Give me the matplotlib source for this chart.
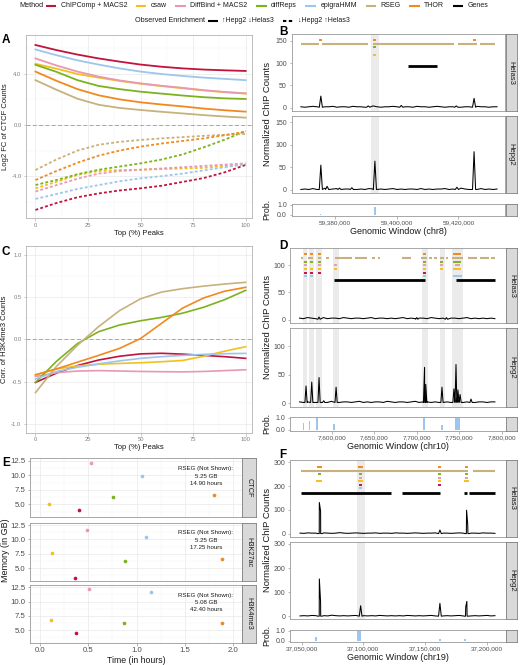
#!/usr/bin/env python3
"""Peak-caller comparison figure: CTCF/H3K4me3 enrichment curves, genomic tracks, runtime."""

import matplotlib

matplotlib.use("Agg")
import matplotlib.pyplot as plt
import matplotlib.ticker as ticker
import numpy as np
from matplotlib.lines import Line2D

plt.rcParams["font.family"] = ["Liberation Sans", "DejaVu Sans"]

W, H = 520, 665

COLORS = {
    "ChIPComp": "#C2123E",
    "csaw": "#F4C01E",
    "DiffBind": "#E899B1",
    "diffReps": "#7DB21F",
    "epigraHMM": "#9CC6EE",
    "RSEG": "#C7B27D",
    "THOR": "#F1891F",
    "Genes": "#000000",
}
LABELS = {
    "ChIPComp": "ChIPComp + MACS2",
    "csaw": "csaw",
    "DiffBind": "DiffBind + MACS2",
    "diffReps": "diffReps",
    "epigraHMM": "epigraHMM",
    "RSEG": "RSEG",
    "THOR": "THOR",
    "Genes": "Genes",
}
CURVE_METHODS = ["ChIPComp", "csaw", "DiffBind", "diffReps", "epigraHMM", "RSEG", "THOR"]
ROW_ORDER = ["THOR", "RSEG", "diffReps", "DiffBind", "csaw", "ChIPComp", "epigraHMM"]

# ---- panel A: log2 FC of CTCF counts vs top % peaks ----
TOP_PCT = [0, 10, 20, 30, 40, 50, 60, 70, 80, 90, 100]
ctcf_up_chipcomp = [6.25, 5.85, 5.5, 5.2, 4.95, 4.72, 4.55, 4.42, 4.33, 4.27, 4.22]
ctcf_up_csaw = [4.78, 4.4, 3.98, 3.7, 3.44, 3.22, 3.04, 2.87, 2.7, 2.56, 2.45]
ctcf_up_diffbind = [5.2, 4.65, 4.17, 3.78, 3.48, 3.25, 3.06, 2.9, 2.72, 2.58, 2.47]
ctcf_up_diffreps = [4.7, 4.15, 3.5, 3.05, 2.8, 2.6, 2.45, 2.3, 2.17, 2.08, 2.03]
ctcf_up_epigrahmm = [5.9, 5.45, 5.05, 4.72, 4.42, 4.17, 3.98, 3.83, 3.7, 3.6, 3.5]
ctcf_up_rseg = [3.5, 2.75, 2.05, 1.58, 1.33, 1.17, 1.03, 0.9, 0.77, 0.66, 0.57]
ctcf_up_thor = [4.17, 3.45, 2.8, 2.32, 2.0, 1.77, 1.6, 1.45, 1.28, 1.15, 1.04]

ctcf_dn_chipcomp = [-6.64, -6.1, -5.65, -5.35, -5.12, -4.95, -4.75, -4.45, -4.15, -3.7, -3.12]
ctcf_dn_csaw = [-4.95, -4.45, -3.9, -3.6, -3.52, -3.5, -3.45, -3.4, -3.35, -3.2, -3.07]
ctcf_dn_diffbind = [-5.2, -4.7, -4.2, -3.8, -3.6, -3.5, -3.4, -3.3, -3.2, -3.1, -3.0]
ctcf_dn_diffreps = [-4.69, -4.3, -3.85, -3.5, -3.25, -3.0, -2.7, -2.3, -1.75, -1.15, -0.47]
ctcf_dn_epigrahmm = [-5.78, -5.4, -5.0, -4.7, -4.4, -4.17, -4.0, -3.8, -3.55, -3.3, -3.07]
ctcf_dn_rseg = [-3.52, -2.7, -2.0, -1.55, -1.32, -1.17, -1.05, -0.95, -0.85, -0.77, -0.7]
ctcf_dn_thor = [-4.3, -3.6, -2.95, -2.4, -2.0, -1.69, -1.45, -1.25, -1.05, -0.8, -0.52]

# ---- panel C: correlation of H3K4me3 counts ----
k4_chipcomp = [-0.51, -0.4, -0.31, -0.245, -0.2, -0.172, -0.165, -0.175, -0.19, -0.205, -0.225]
k4_csaw = [-0.42, -0.35, -0.315, -0.295, -0.285, -0.277, -0.265, -0.25, -0.2, -0.14, -0.087]
k4_diffbind = [-0.44, -0.395, -0.375, -0.37, -0.375, -0.38, -0.383, -0.385, -0.38, -0.37, -0.36]
k4_diffreps = [-0.51, -0.26, -0.05, 0.09, 0.17, 0.22, 0.26, 0.31, 0.38, 0.47, 0.58]
k4_epigrahmm = [-0.47, -0.38, -0.33, -0.29, -0.255, -0.225, -0.205, -0.19, -0.178, -0.17, -0.166]
k4_rseg = [-0.63, -0.32, -0.07, 0.15, 0.34, 0.48, 0.56, 0.6, 0.63, 0.655, 0.675]
k4_thor = [-0.42, -0.35, -0.27, -0.19, -0.107, 0.01, 0.19, 0.37, 0.49, 0.57, 0.616]

# ---- panel E: time and memory ----
E_METHODS = ["ChIPComp", "csaw", "DiffBind", "diffReps", "epigraHMM", "THOR"]
ctcf_hours = [0.41, 0.093, 0.535, 0.76, 1.06, 1.8]
ctcf_gb = [3.98, 5.06, 12.16, 6.25, 9.92, 6.55]
k27_hours = [0.36, 0.13, 0.49, 0.88, 1.1, 1.88]
k27_gb = [3.3, 7.72, 11.64, 6.33, 10.36, 6.56]
k4_hours = [0.37, 0.12, 0.51, 0.87, 1.145, 1.88]
k4_gb = [4.46, 6.76, 12.22, 6.3, 11.76, 6.19]
E_MARKS = ["CTCF", "H3K27ac", "H3K4me3"]
rseg_note = [("5.25 GB", "14.90 hours"), ("5.25 GB", "17.25 hours"), ("5.08 GB", "42.40 hours")]

# ---- panel B: chr8 ----
b_range = (59369000, 59432500)
b_helas3_base = [2, 1, 2, 3, 2, 1, 2, 2, 3, 1, 2, 2, 1, 3, 2, 2, 1, 2, 4, 2, 1, 2, 2, 3, 2,
                 1, 2, 2, 1, 3, 2, 2, 1, 2, 3, 2, 1, 2, 2, 3, 1, 2, 2, 1, 3, 2, 2, 1, 2, 2]
b_hepg2_base = [1, 2, 1, 3, 1, 2, 4, 1, 2, 3, 1, 2, 2, 4, 1, 2, 1, 3, 2, 1, 2, 1, 2, 3, 1,
                2, 1, 2, 2, 1, 3, 1, 2, 1, 2, 2, 3, 1, 2, 1, 4, 2, 1, 2, 1, 3, 1, 2, 1, 2]
b_helas3_peaks = [(59375460, 26), (59390800, 4), (59401500, 5), (59419300, 4), (59425060, 21)]
b_hepg2_peaks = [(59375460, 55), (59377500, 8), (59381500, 4), (59385500, 5),
                 (59392960, 64), (59419500, 6), (59425060, 85)]
b_shade = [(59391670, 59394360)]
b_calls = [
    ("THOR", 59375300, 59375600), ("THOR", 59392800, 59393100), ("THOR", 59424900, 59425200),
    ("RSEG", 59368980, 59374910), ("RSEG", 59375790, 59390600), ("RSEG", 59392220, 59418670),
    ("RSEG", 59419770, 59425930), ("RSEG", 59427000, 59431860),
    ("diffReps", 59392750, 59393150), ("DiffBind", 59392900, 59393050),
    ("csaw", 59392750, 59393150), ("epigraHMM", 59392900, 59393000),
]
b_genes = [(59403570, 59412970)]
b_prob_pos = [59375400, 59392900]
b_prob_height = [0.08, 0.8]
b_prob_width = [500, 700]

# ---- panel D: chr10 ----
d_range = (7562000, 7792000)
d_helas3_base = [3, 2, 4, 3, 2, 3, 4, 2, 3, 3, 2, 4, 3, 2, 3, 3, 2, 3, 4, 2, 3, 3, 2, 3, 2,
                 3, 4, 2, 3, 2, 3, 3, 2, 4, 3, 2, 3, 2, 3, 3, 2, 3, 4, 2, 3, 2, 3, 2, 3, 2]
d_hepg2_base = [2, 1, 2, 3, 1, 2, 2, 1, 3, 2, 1, 2, 2, 1, 2, 3, 1, 2, 1, 2, 2, 1, 3, 2, 1,
                2, 2, 1, 2, 3, 1, 2, 2, 1, 2, 1, 3, 2, 1, 2, 2, 1, 2, 3, 1, 2, 2, 1, 2, 2]
d_helas3_peaks = [(7585000, 5), (7700000, 4), (7735000, 4)]
d_hepg2_peaks = [(7569700, 30), (7576420, 37), (7585020, 45), (7590500, 4), (7605070, 28),
                 (7709200, 63), (7710600, 33), (7729700, 28), (7743800, 25), (7746200, 68),
                 (7748500, 23), (7751000, 15), (7763900, 7)]
d_shade = [(7566510, 7571230), (7573585, 7579480), (7581490, 7588560), (7601890, 7608250),
           (7706130, 7713210), (7726890, 7732780), (7741500, 7754480)]
d_calls = [
    ("THOR", 7568300, 7569500), ("diffReps", 7568300, 7569500), ("DiffBind", 7568300, 7569500),
    ("csaw", 7568300, 7569500), ("ChIPComp", 7568300, 7569500), ("epigraHMM", 7568300, 7569500),
    ("THOR", 7575800, 7577000), ("diffReps", 7575800, 7577000), ("csaw", 7575800, 7577000),
    ("ChIPComp", 7575800, 7577000), ("epigraHMM", 7575800, 7577000),
    ("THOR", 7584400, 7585600), ("diffReps", 7584400, 7585600), ("DiffBind", 7584400, 7585600),
    ("csaw", 7584400, 7585600), ("ChIPComp", 7584400, 7585600),
    ("DiffBind", 7604100, 7605300), ("csaw", 7604100, 7605300),
    ("THOR", 7708600, 7709800), ("diffReps", 7708600, 7709800), ("DiffBind", 7708600, 7709800),
    ("csaw", 7708600, 7709800), ("ChIPComp", 7708600, 7709800), ("epigraHMM", 7708600, 7709800),
    ("diffReps", 7729100, 7730300), ("DiffBind", 7729100, 7730300), ("csaw", 7729100, 7730300),
    ("THOR", 7744170, 7750460), ("diffReps", 7744200, 7751000), ("DiffBind", 7745700, 7749600),
    ("csaw", 7743400, 7751000), ("epigraHMM", 7743400, 7751800),
    ("RSEG", 7563800, 7565760), ("RSEG", 7572450, 7577560), ("RSEG", 7583450, 7586990),
    ("RSEG", 7593280, 7596420), ("RSEG", 7603890, 7623540), ("RSEG", 7627480, 7642020),
    ("RSEG", 7647920, 7651060), ("RSEG", 7654200, 7656960), ("RSEG", 7682510, 7693120),
    ("RSEG", 7705310, 7711990), ("RSEG", 7714740, 7717880), ("RSEG", 7719850, 7723780),
    ("RSEG", 7727710, 7731640), ("RSEG", 7734390, 7736750), ("RSEG", 7741470, 7754440),
    ("RSEG", 7760340, 7770950), ("RSEG", 7774090, 7784700), ("RSEG", 7787850, 7792560),
]
d_genes = [(7602710, 7710020), (7746180, 7792560)]
d_prob_pos = [7566900, 7573900, 7582300, 7602700, 7708000, 7729700, 7747500]
d_prob_height = [0.6, 0.7, 1.0, 0.5, 1.0, 0.4, 1.0]
d_prob_width = [1800, 1800, 2400, 1800, 2400, 1800, 6000]

# ---- panel F: chr19 ----
f_range = (37048600, 37206700)
f_helas3_base = [3, 2, 4, 3, 3, 2, 4, 3, 2, 3, 5, 3, 2, 3, 4, 3, 2, 3, 3, 4, 2, 3, 3, 2, 4,
                 3, 3, 2, 3, 4, 3, 2, 3, 3, 4, 2, 3, 3, 2, 3, 4, 3, 2, 3, 3, 2, 4, 3, 3, 2]
f_hepg2_base = [2, 3, 2, 4, 3, 2, 3, 2, 5, 3, 2, 3, 2, 3, 4, 2, 3, 2, 3, 2, 4, 3, 2, 3, 2,
                3, 2, 4, 3, 2, 3, 2, 3, 4, 2, 3, 2, 3, 2, 3, 4, 2, 3, 2, 3, 2, 3, 4, 2, 3]
f_helas3_peaks = [(37064290, 131), (37065300, 95), (37162060, 16), (37183670, 99), (37184600, 40)]
f_hepg2_peaks = [(37064290, 155), (37065300, 60), (37097780, 44), (37162060, 54),
                 (37183000, 40), (37183900, 62)]
f_shade = [(37094540, 37101290)]
f_calls = [
    ("THOR", 37063200, 37065400), ("diffReps", 37063900, 37064700), ("csaw", 37062700, 37065900),
    ("THOR", 37096800, 37098800), ("diffReps", 37097400, 37098100), ("DiffBind", 37097400, 37098100),
    ("csaw", 37096500, 37099000), ("ChIPComp", 37097200, 37098400), ("epigraHMM", 37097200, 37098400),
    ("THOR", 37161700, 37162400), ("diffReps", 37161700, 37162400), ("DiffBind", 37161700, 37162400),
    ("csaw", 37161700, 37162400), ("ChIPComp", 37161700, 37162400),
    ("THOR", 37183000, 37184300), ("diffReps", 37183100, 37184200), ("DiffBind", 37183300, 37184000),
    ("csaw", 37182500, 37184800),
    ("RSEG", 37049430, 37185020), ("RSEG", 37188530, 37206630),
]
f_genes = [(37049430, 37122360), (37131540, 37162060), (37181520, 37183670), (37185830, 37206630)]
f_prob_pos = [37061600, 37096500, 37162100, 37182300]
f_prob_height = [0.4, 1.0, 0.2, 0.15]
f_prob_width = [1500, 3000, 1200, 1200]


fig = plt.figure(figsize=(W / 100, H / 100), dpi=100)
fig.patch.set_facecolor("white")


def ax_at(left, top, right, bottom):
    return fig.add_axes([left / W, 1 - bottom / H, (right - left) / W, (bottom - top) / H])


def style_frame(ax, color="#B3B3B3", labelsize=4.2, labelcolor="#808080"):
    for sp in ax.spines.values():
        sp.set_color(color)
        sp.set_linewidth(0.6)
    ax.tick_params(length=1.8, width=0.5, color=color, labelsize=labelsize,
                   labelcolor=labelcolor, pad=1.5)


def add_grid(ax):
    ax.set_axisbelow(True)
    ax.grid(which="major", color="#EBEBEB", linewidth=0.55)
    ax.grid(which="minor", color="#F4F4F4", linewidth=0.35)


def fig_text(x, y, s, **kw):
    fig.text(x / W, 1 - y / H, s, **kw)


def strip(top, bottom, label, left=505.7, right=517.0, size=5.5):
    sax = ax_at(left + 0.4, top, right, bottom)
    sax.set_facecolor("#D9D9D9")
    sax.set_xticks([])
    sax.set_yticks([])
    for sp in sax.spines.values():
        sp.set_color("#7F7F7F")
        sp.set_linewidth(0.6)
    if label:
        sax.text(0.5, 0.5, label, rotation=-90, ha="center", va="center",
                 fontsize=size, color="#1A1A1A", transform=sax.transAxes)


def panel_letter(x, y, s):
    fig_text(x, y, s, fontsize=8.5, fontweight="bold", ha="left", va="top")


# ---------------- legend ----------------
renderer = fig.canvas.get_renderer()


def legend_row(items, x_start, y_px):
    x = x_start
    yf = 1 - y_px / H
    for item in items:
        kind = item[0]
        if kind == "title":
            t = fig.text(x / W, yf, item[1], fontsize=5.2, ha="left", va="center", color="#1A1A1A")
            x += t.get_window_extent(renderer).width + 2.5
        elif kind == "label":
            t = fig.text(x / W, yf, item[1], fontsize=5.0, ha="left", va="center", color="#1A1A1A")
            x += t.get_window_extent(renderer).width + 8.5
        else:
            ln = Line2D([x / W, (x + 10.5) / W], [yf, yf], transform=fig.transFigure,
                        color=item[1], linewidth=1.5, linestyle=item[2], solid_capstyle="butt",
                        dash_capstyle="butt")
            fig.add_artist(ln)
            x += 10.5 + 4.5


row1 = [("title", "Method")]
for m in CURVE_METHODS + ["Genes"]:
    row1 += [("line", COLORS[m], "-"), ("label", LABELS[m])]
legend_row(row1, 19, 5.5)
row2 = [("title", "Observed Enrichment"), ("line", "#000000", "-"), ("label", "\u2191Hepg2 \u2193Helas3"),
        ("line", "#000000", (0, (1.6, 1.2))), ("label", "\u2193Hepg2 \u2191Helas3")]
legend_row(row2, 135, 20.5)


# ---------------- panels A and C ----------------
def curve_axes(top, bottom, ylim, yticks, ylabel, minor):
    ax = ax_at(26, top, 252, bottom)
    style_frame(ax)
    add_grid(ax)
    ax.set_xlim(-4.5, 103)
    ax.set_ylim(*ylim)
    ax.set_xticks([0, 25, 50, 75, 100])
    ax.set_xticks([12.5, 37.5, 62.5, 87.5], minor=True)
    ax.set_yticks(yticks)
    ax.set_yticks(minor, minor=True)
    ax.tick_params(which="minor", length=0)
    ax.yaxis.set_major_formatter(ticker.FormatStrFormatter("%.1f"))
    ax.axhline(0, color="#A6A6A6", linewidth=0.7, linestyle=(0, (4, 2.5)), zorder=1)
    ax.set_xlabel("Top (%) Peaks", fontsize=5.5, color="#1A1A1A", labelpad=1.5)
    ax.set_ylabel(ylabel, fontsize=5.5, color="#1A1A1A", labelpad=2)
    return ax


ax_a = curve_axes(35, 218, (-7.27, 7.03), [-4, 0, 4], "Log2 FC of CTCF Counts", [-6, -2, 2, 6])
ctcf_up = [ctcf_up_chipcomp, ctcf_up_csaw, ctcf_up_diffbind, ctcf_up_diffreps,
           ctcf_up_epigrahmm, ctcf_up_rseg, ctcf_up_thor]
ctcf_dn = [ctcf_dn_chipcomp, ctcf_dn_csaw, ctcf_dn_diffbind, ctcf_dn_diffreps,
           ctcf_dn_epigrahmm, ctcf_dn_rseg, ctcf_dn_thor]
for m, up, dn in zip(CURVE_METHODS, ctcf_up, ctcf_dn):
    ax_a.plot(TOP_PCT, up, color=COLORS[m], linewidth=1.3, zorder=3)
    ax_a.plot(TOP_PCT, dn, color=COLORS[m], linewidth=1.3, linestyle=(0, (1.6, 1.2)),
              dash_capstyle="butt", zorder=3)

ax_c = curve_axes(246, 432.7, (-1.105, 1.105), [-1, -0.5, 0, 0.5, 1], "Corr. of H3K4me3 Counts",
                  [-0.75, -0.25, 0.25, 0.75])
k4_curves = [k4_chipcomp, k4_csaw, k4_diffbind, k4_diffreps, k4_epigrahmm, k4_rseg, k4_thor]
for m, vals in zip(CURVE_METHODS, k4_curves):
    ax_c.plot(TOP_PCT, vals, color=COLORS[m], linewidth=1.2, zorder=3)

panel_letter(2, 34, "A")
panel_letter(2, 246, "C")

# ---------------- panel E ----------------
e_rows = [(458.3, 517.3), (522.7, 581.0), (585.0, 642.7)]
e_data = [(ctcf_hours, ctcf_gb), (k27_hours, k27_gb), (k4_hours, k4_gb)]
for i, ((top, bottom), (hrs, gb), mark, note) in enumerate(zip(e_rows, e_data, E_MARKS, rseg_note)):
    ax = ax_at(30, top, 241.7, bottom)
    style_frame(ax, color="#999999", labelsize=5.6, labelcolor="#4D4D4D")
    add_grid(ax)
    ax.set_xlim(-0.1, 2.086)
    ax.set_ylim(2.77, 12.91)
    ax.set_xticks([0, 0.5, 1.0, 1.5, 2.0])
    ax.set_xticks([0.25, 0.75, 1.25, 1.75], minor=True)
    ax.set_yticks([5.0, 7.5, 10.0, 12.5])
    ax.set_yticks([3.75, 6.25, 8.75, 11.25], minor=True)
    ax.tick_params(which="minor", length=0)
    ax.yaxis.set_major_formatter(ticker.FormatStrFormatter("%.1f"))
    ax.xaxis.set_major_formatter(ticker.FormatStrFormatter("%.1f"))
    for m, x, y in zip(E_METHODS, hrs, gb):
        ax.scatter(x, y, s=7, color=COLORS[m], linewidths=0, zorder=3)
    ax.text(0.831, 0.70, "RSEG (Not Shown):\n" + note[0] + "\n" + note[1], transform=ax.transAxes,
            ha="center", va="center", fontsize=4.4, color="#1A1A1A", linespacing=1.55)
    if i < 2:
        ax.tick_params(labelbottom=False, length=0, axis="x")
    strip(top, bottom, mark, left=241.7, right=256.0, size=5.3)
    if i == 2:
        ax.set_xlabel("Time (in hours)", fontsize=6.3, color="#1A1A1A", labelpad=1.5)
fig_text(6, 550, "Memory (in GB)", rotation=90, fontsize=6.5, ha="center", va="center",
         color="#1A1A1A")
panel_letter(2, 457, "E")


# ---------------- genomic panels B, D, F ----------------
def signal_xy(rng, base, peaks, half):
    xs = np.linspace(rng[0], rng[1], len(base))
    pts = [(x, y) for x, y in zip(xs, base) if all(abs(x - p) > half for p, _ in peaks)]
    for p, h in peaks:
        pts += [(p - half, 1.0), (p, h), (p + half, 1.0)]
    pts.sort()
    return [p[0] for p in pts], [p[1] for p in pts]


def genome_style(ax, xlim, ylim, yticks):
    style_frame(ax, color="#999999", labelsize=5.0, labelcolor="#4D4D4D")
    ax.set_xlim(*xlim)
    ax.set_ylim(*ylim)
    ax.set_yticks(yticks)


def genome_panel(spec):
    left, right = spec["x"]
    (t1, b1), (t2, b2), (t3, b3) = spec["rows"]
    top_lvl, step = spec["levels"]
    tracks = [("Helas3", t1, b1, spec["helas3"]), ("Hepg2", t2, b2, spec["hepg2"])]
    for name, top, bottom, (base, peaks) in tracks:
        ax = ax_at(left, top, right, bottom)
        genome_style(ax, spec["xlim"], spec["ylim"], spec["yticks"])
        ax.tick_params(axis="x", bottom=False, labelbottom=False)
        for s, e in spec["shade"]:
            ax.axvspan(s, e, color="#EBEBEB", linewidth=0, zorder=0)
        xs, ys = signal_xy(spec["range"], base, peaks, spec["half"])
        ax.plot(xs, ys, color="#000000", linewidth=0.75, zorder=3)
        if name == "Helas3":
            for m, s, e in spec["calls"]:
                y = top_lvl - ROW_ORDER.index(m) * step
                long_seg = m == "RSEG"
                ax.plot([s, e], [y, y], color=COLORS[m], linewidth=1.5 if long_seg else 1.4,
                        solid_capstyle="butt" if long_seg else "projecting", zorder=4)
            for s, e in spec["genes"]:
                ax.plot([s, e], [spec["gene_lvl"]] * 2, color="#000000", linewidth=2.0,
                        solid_capstyle="butt", zorder=4)
        strip(top, bottom, name, left=right, right=right + 11.3)
    pax = ax_at(left, t3, right, b3)
    genome_style(pax, spec["xlim"], (-0.1, 1.1), [0, 1])
    pax.yaxis.set_major_formatter(ticker.FormatStrFormatter("%.1f"))
    pax.bar(spec["prob"][0], spec["prob"][1], width=spec["prob"][2], color=COLORS["epigraHMM"],
            linewidth=0, zorder=3)
    pax.set_xticks(spec["xticks"])
    pax.xaxis.set_major_formatter(ticker.FuncFormatter(lambda v, _: f"{int(round(v)):,}"))
    pax.tick_params(axis="x", labelsize=4.6, pad=1.2)
    pax.set_xlabel(spec["xlabel"], fontsize=6.5, color="#1A1A1A", labelpad=1.2)
    strip(t3, b3, "", left=right, right=right + 11.3)
    fig_text(267, (t1 + b2) / 2, "Normalized ChIP Counts", rotation=90, fontsize=6.8,
             ha="center", va="center", color="#1A1A1A")
    fig_text(267, (t3 + b3) / 2, "Prob.", rotation=90, fontsize=6.3, ha="center", va="center",
             color="#1A1A1A")


genome_panel({
    "x": (291.5, 505.2), "rows": [(34.3, 111.0), (115.7, 193.3), (204.0, 215.7)],
    "xlim": (59365965, 59435137), "ylim": (-7.5, 165), "yticks": [0, 50, 100, 150],
    "range": b_range, "helas3": (b_helas3_base, b_helas3_peaks),
    "hepg2": (b_hepg2_base, b_hepg2_peaks), "half": 500, "shade": b_shade,
    "calls": b_calls, "genes": b_genes, "gene_lvl": 93, "levels": (152, 8.3),
    "prob": (b_prob_pos, b_prob_height, b_prob_width),
    "xticks": [59380000, 59400000, 59420000], "xlabel": "Genomic Window (chr8)",
})
genome_panel({
    "x": (290.0, 505.7), "rows": [(247.7, 323.3), (328.3, 406.7), (416.7, 431.0)],
    "xlim": (7550830, 7804700), "ylim": (-6.5, 132), "yticks": [0, 50, 100],
    "range": d_range, "helas3": (d_helas3_base, d_helas3_peaks),
    "hepg2": (d_hepg2_base, d_hepg2_peaks), "half": 1300, "shade": d_shade,
    "calls": d_calls, "genes": d_genes, "gene_lvl": 73, "levels": (120, 6.7),
    "prob": (d_prob_pos, d_prob_height, d_prob_width),
    "xticks": [7600000, 7650000, 7700000, 7750000, 7800000], "xlabel": "Genomic Window (chr10)",
})
genome_panel({
    "x": (290.0, 505.7), "rows": [(460.0, 536.7), (541.7, 619.3), (630.0, 641.7)],
    "xlim": (37040500, 37215400), "ylim": (-12, 309), "yticks": [0, 100, 200, 300],
    "range": f_range, "helas3": (f_helas3_base, f_helas3_peaks),
    "hepg2": (f_hepg2_base, f_hepg2_peaks), "half": 1100, "shade": f_shade,
    "calls": f_calls, "genes": f_genes, "gene_lvl": 172, "levels": (280, 15),
    "prob": (f_prob_pos, f_prob_height, f_prob_width),
    "xticks": [37050000, 37100000, 37150000, 37200000], "xlabel": "Genomic Window (chr19)",
})

panel_letter(279, 26, "B")
panel_letter(279, 240, "D")
panel_letter(279, 449, "F")

fig.savefig("out.png", dpi=100, facecolor="white")
plt.close(fig)
